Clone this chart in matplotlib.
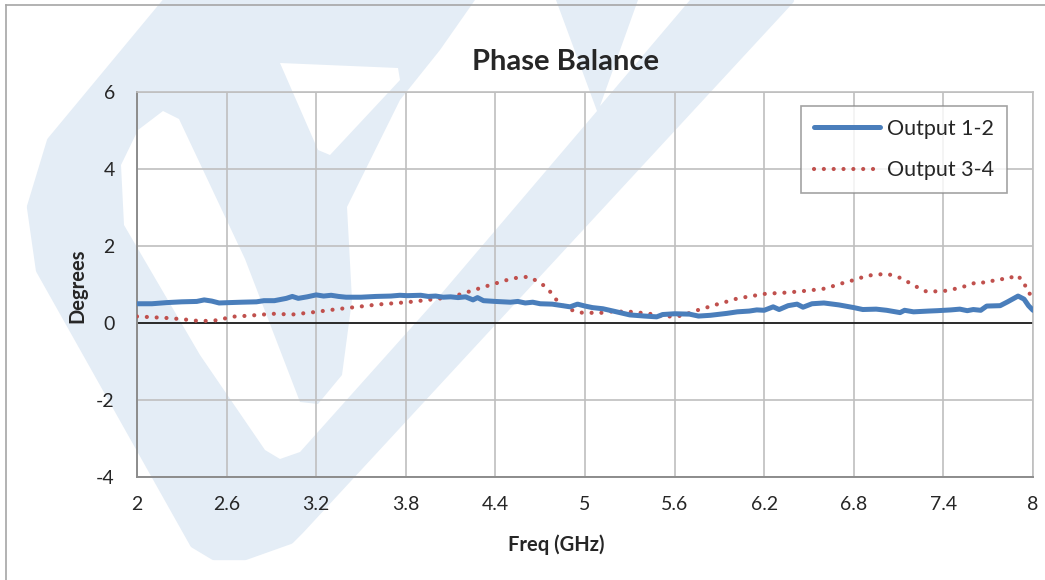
import numpy as np
import matplotlib
matplotlib.use('Agg')
import matplotlib.pyplot as plt
from matplotlib.patches import Polygon
from matplotlib.lines import Line2D

plt.rcParams['font.family'] = ['Lato', 'DejaVu Sans']
plt.rcParams['axes.unicode_minus'] = False

# values
freq_12 = [2.00, 2.10, 2.20, 2.30, 2.40, 2.45, 2.50, 2.55, 2.62, 2.70, 2.80, 2.85, 2.92,
           3.00, 3.04, 3.08, 3.14, 3.20, 3.25, 3.30, 3.35, 3.40, 3.50, 3.60, 3.70, 3.76,
           3.81, 3.90, 3.95, 4.00, 4.05, 4.10, 4.15, 4.20, 4.25, 4.28, 4.32, 4.40, 4.50,
           4.55, 4.60, 4.65, 4.70, 4.78, 4.85, 4.90, 4.95, 5.00, 5.05, 5.12, 5.20, 5.30,
           5.40, 5.48, 5.52, 5.60, 5.70, 5.76, 5.84, 5.95, 6.02, 6.10, 6.15, 6.20, 6.26,
           6.30, 6.36, 6.42, 6.46, 6.52, 6.60, 6.70, 6.80, 6.86, 6.95, 7.02, 7.11, 7.14,
           7.20, 7.30, 7.36, 7.45, 7.51, 7.56, 7.60, 7.65, 7.69, 7.78, 7.83, 7.90, 7.94,
           7.97, 8.00]
phase_12 = [0.50, 0.50, 0.53, 0.55, 0.56, 0.60, 0.57, 0.52, 0.53, 0.54, 0.55, 0.58, 0.58,
            0.64, 0.69, 0.64, 0.68, 0.73, 0.70, 0.72, 0.69, 0.67, 0.67, 0.69, 0.70, 0.72,
            0.71, 0.72, 0.69, 0.70, 0.67, 0.68, 0.66, 0.68, 0.60, 0.66, 0.58, 0.56, 0.54,
            0.56, 0.52, 0.54, 0.50, 0.49, 0.45, 0.42, 0.49, 0.44, 0.40, 0.37, 0.30, 0.21,
            0.18, 0.16, 0.22, 0.24, 0.23, 0.18, 0.20, 0.25, 0.29, 0.31, 0.34, 0.33, 0.42,
            0.35, 0.45, 0.49, 0.41, 0.50, 0.52, 0.47, 0.40, 0.35, 0.36, 0.33, 0.27, 0.33,
            0.29, 0.31, 0.32, 0.34, 0.36, 0.32, 0.35, 0.33, 0.44, 0.45, 0.55, 0.70, 0.62,
            0.45, 0.33]

freq_34 = [2.00, 2.10, 2.20, 2.30, 2.42, 2.50, 2.56, 2.62, 2.75, 2.91, 3.04, 3.18, 3.34,
           3.50, 3.61, 3.81, 3.95, 4.08, 4.16, 4.26, 4.36, 4.48, 4.55, 4.62, 4.69, 4.75,
           4.79, 4.83, 4.90, 4.97, 5.10, 5.18, 5.32, 5.45, 5.52, 5.66, 5.72, 5.79, 5.86,
           5.93, 5.99, 6.07, 6.21, 6.35, 6.49, 6.62, 6.69, 6.76, 6.82, 6.89, 7.02, 7.10,
           7.16, 7.23, 7.29, 7.43, 7.49, 7.56, 7.63, 7.69, 7.76, 7.83, 7.89, 7.94, 7.96,
           8.00]
phase_34 = [0.17, 0.15, 0.13, 0.10, 0.05, 0.06, 0.08, 0.16, 0.19, 0.24, 0.22, 0.28, 0.36,
            0.43, 0.48, 0.54, 0.60, 0.66, 0.74, 0.86, 0.98, 1.12, 1.18, 1.20, 1.07, 0.90,
            0.69, 0.50, 0.35, 0.27, 0.26, 0.30, 0.29, 0.23, 0.16, 0.19, 0.30, 0.37, 0.46,
            0.53, 0.61, 0.67, 0.76, 0.79, 0.84, 0.90, 1.00, 1.07, 1.14, 1.23, 1.28, 1.19,
            1.07, 0.92, 0.81, 0.84, 0.90, 0.97, 1.07, 1.04, 1.14, 1.14, 1.25, 1.07, 0.81,
            0.70]

x_ticks = [2, 2.6, 3.2, 3.8, 4.4, 5, 5.6, 6.2, 6.8, 7.4, 8]
x_tick_labels = ['2', '2.6', '3.2', '3.8', '4.4', '5', '5.6', '6.2', '6.8', '7.4', '8']
y_ticks = [-4, -2, 0, 2, 4, 6]

W, H = 1045, 580
fig = plt.figure(figsize=(W / 100, H / 100), dpi=100)
fig.patch.set_facecolor('white')


def px(pts):
    return [(x / W, 1 - y / H) for x, y in pts]


# faint logo watermark behind the chart (pixel outline, y down)
wm = '#e4edf6'
outer = [(168, 0), (51, 141), (31, 207), (40, 270), (117, 407), (194, 544),
         (214, 556), (245, 556), (290, 540), (300, 530), (790, 0)]
fig.patches.append(Polygon(px(outer), closed=True, transform=fig.transFigure,
                           facecolor=wm, edgecolor=wm, linewidth=6, joinstyle='round',
                           zorder=-2))
holes = [
    # U-shaped gap around the stem, running up into the channel
    [(163, 111), (138, 130), (121, 165), (124, 225), (200, 355), (265, 450),
     (280, 459), (300, 452), (436, 300), (597, 111), (556, 0), (475, 0),
     (440, 50), (400, 100), (347, 207), (352, 300), (342, 375), (318, 404),
     (300, 402), (245, 259), (179, 119)],
    # hole inside the bowl
    [(280, 63), (398, 68), (400, 80), (330, 155), (318, 150)],
    # notch between the wedge and the right arm
    [(638, 0), (690, 0), (600, 106)],
]
for h in holes:
    fig.patches.append(Polygon(px(h), closed=True, transform=fig.transFigure,
                               facecolor='white', edgecolor='none', zorder=-1))

# outer chart border (top and left visible)
fig.lines.append(Line2D([6 / W, 1.0], [1 - 5 / H, 1 - 5 / H], transform=fig.transFigure,
                        color='#a6a6a6', linewidth=1.2))
fig.lines.append(Line2D([6 / W, 6 / W], [0, 1 - 5 / H], transform=fig.transFigure,
                        color='#a6a6a6', linewidth=1.2))

ax = fig.add_axes([137 / W, 1 - 477 / H, 896 / W, 385 / H])
ax.set_facecolor('none')

ax.plot(freq_12, phase_12, color='#4a7ebb', linewidth=3.6, solid_joinstyle='round',
        solid_capstyle='round', label='Output 1-2', zorder=4)
ax.plot(freq_34, phase_34, color='#c0504d', linewidth=3.0,
        linestyle=(0, (0.01, 2.35)), dash_capstyle='round', label='Output 3-4', zorder=3)
ax.axhline(0, color='black', linewidth=1.1, zorder=2)

ax.set_xlim(2, 8)
ax.set_ylim(-4, 6)
ax.set_xticks(x_ticks)
ax.set_xticklabels(x_tick_labels)
ax.set_yticks(y_ticks)
ax.tick_params(length=0, labelsize=14, colors='#262626')
ax.tick_params(axis='x', pad=14)
ax.tick_params(axis='y', pad=16)
ax.grid(True, color='#bfbfbf', linewidth=1.2, zorder=1)
ax.set_axisbelow(True)
for s in ['top', 'right']:
    ax.spines[s].set_color('#bfbfbf')
    ax.spines[s].set_linewidth(1.2)
for s in ['left', 'bottom']:
    ax.spines[s].set_color('#8c8c8c')
    ax.spines[s].set_linewidth(1.4)

leg = ax.legend(loc='upper right', bbox_to_anchor=((1007 - 137) / 896, (477 - 106) / 385),
                borderaxespad=0, fontsize=15.5, frameon=True, fancybox=False,
                handlelength=3.1, handletextpad=0.3, labelspacing=1.0, borderpad=0.6)
leg.get_frame().set_edgecolor('#8c8c8c')
leg.get_frame().set_linewidth(1.2)
for t in leg.get_texts():
    t.set_color('#262626')

fig.text(566 / W, 1 - 62 / H, 'Phase Balance', ha='center', va='center',
         fontsize=21, fontweight='bold', color='#262626')
fig.text(556 / W, 1 - 545 / H, 'Freq (GHz)', ha='center', va='center',
         fontsize=14.5, fontweight='bold', color='#262626')
fig.text(77 / W, 1 - 286 / H, 'Degrees', ha='center', va='center', rotation=90,
         fontsize=14.5, fontweight='bold', color='#262626')

fig.savefig('out.png', dpi=100)
